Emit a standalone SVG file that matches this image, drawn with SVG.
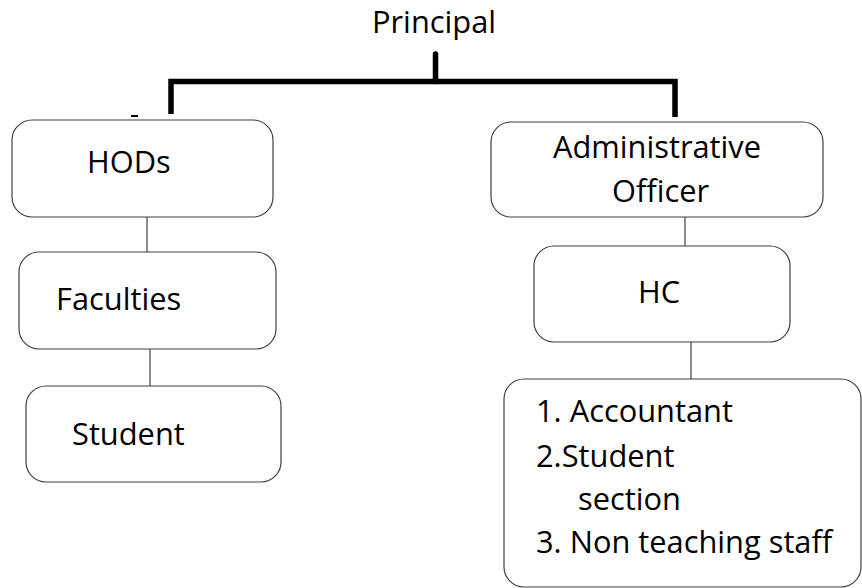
<svg xmlns="http://www.w3.org/2000/svg" width="862" height="588" viewBox="0 0 862 588">
<style>
.box{fill:#fff;stroke:#404040;stroke-width:1.2}
.t{font-family:"Open Sans","Noto Sans","DejaVu Sans",sans-serif;font-size:30.8px;fill:#000}
.c{stroke:#404040;stroke-width:1.2;fill:none}
.br{stroke:#000;stroke-width:5.5;fill:none;stroke-linejoin:miter}
</style>
<rect width="862" height="588" fill="#fff"/>
<g id="principal"><text class="t" x="372" y="33">Principal</text></g>
<g id="connectors">
<path class="br" d="M171,114 V81.5 H675 V117"/>
<path class="br" d="M435.5,81.5 V54" stroke-linecap="round"/>
<line x1="131" y1="116" x2="138" y2="116" stroke="#000" stroke-width="2"/>
<line class="c" x1="147" y1="217" x2="147" y2="252"/>
<line class="c" x1="150" y1="349" x2="150" y2="386"/>
<line class="c" x1="685" y1="217" x2="685" y2="246"/>
<line class="c" x1="691" y1="342" x2="691" y2="379"/>
</g>
<g id="hods"><rect class="box" x="12" y="120" width="261" height="97" rx="20"/><text class="t" x="87" y="173">HODs</text></g>
<g id="faculties"><rect class="box" x="19" y="252" width="257" height="97" rx="20"/><text class="t" x="56" y="310">Faculties</text></g>
<g id="student"><rect class="box" x="26" y="386" width="255" height="96" rx="20"/><text class="t" x="72" y="445">Student</text></g>
<g id="admin"><rect class="box" x="491" y="122" width="332" height="95" rx="20"/><text class="t" x="553" y="158">Administrative</text><text class="t" x="612" y="202">Officer</text></g>
<g id="hc"><rect class="box" x="534" y="246" width="256" height="96" rx="20"/><text class="t" x="638" y="303">HC</text></g>
<g id="staff"><rect class="box" x="504" y="379" width="357" height="208" rx="20"/>
<text class="t" x="536" y="422">1. Accountant</text>
<text class="t" x="536" y="467">2.Student</text>
<text class="t" x="578" y="510">section</text>
<text class="t" x="536" y="553">3. Non teaching staff</text>
</g>
</svg>
